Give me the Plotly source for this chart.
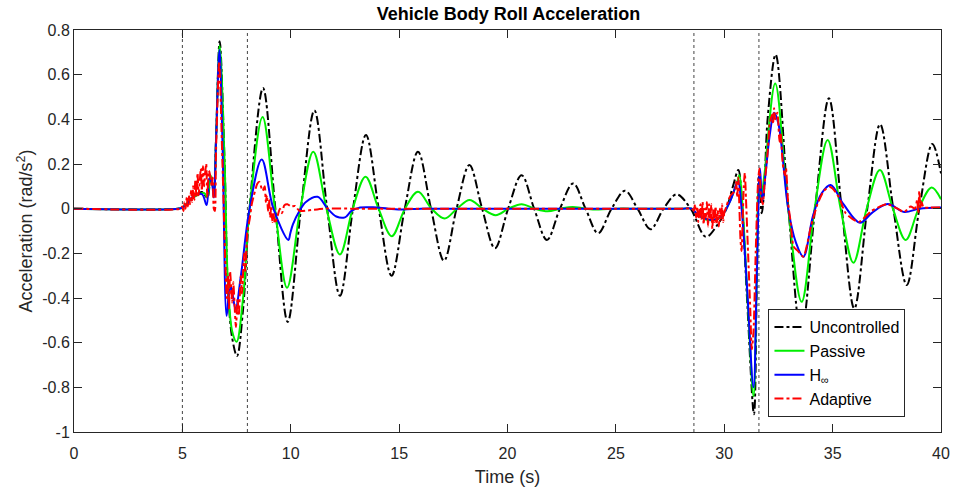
import plotly.graph_objects as go

# ---------------- data ----------------
unc_t = [0, 4.8, 5.0, 5.3, 5.6, 5.9, 6.15, 6.3, 6.45, 6.55, 6.72, 6.95, 7.1, 7.3, 7.52, 7.8, 8.1, 8.72,
         9.29, 9.86, 10.47, 11.09, 11.68, 12.27, 12.87, 13.47, 14.06, 14.65, 15.26, 15.87, 16.47, 17.07,
         17.65, 18.24, 18.83, 19.42, 20.03, 20.65, 21.23, 21.82, 22.42, 23.03, 23.6, 24.18, 24.8, 25.42,
         26.0, 26.6, 27.2, 27.8, 28.45, 29.15, 29.7, 30.1, 30.4, 30.65, 30.8, 31.05, 31.37, 31.5, 31.6,
         31.73, 31.85, 32.0, 32.37, 32.96, 33.55, 34.19, 34.83, 35.42, 36.0, 36.6, 37.19, 37.8, 38.42,
         39.0, 39.6, 40.0]
unc_v = [0, 0, 0.005, 0.03, 0.06, 0.075, 0.05, 0.14, 0.08, 0.3, 0.75, 0.2, -0.35, -0.58, -0.66, -0.45, 0.0, 0.54,
         0.0, -0.507, 0.0, 0.44, 0.0, -0.39, 0.0, 0.33, 0.0, -0.30, 0.0, 0.255, 0.0, -0.233,
         0.0, 0.195, 0.0, -0.177, 0.0, 0.15, 0.0, -0.14, 0.0, 0.113, 0.0, -0.11, 0.0, 0.08,
         0.0, -0.092, 0.0, 0.064, 0.0, -0.126, -0.07, 0.0, 0.1, 0.173, 0.05, -0.4, -0.92, -0.35, 0.15,
         -0.02, 0.1, 0.4, 0.69, 0.0, -0.56, 0.0, 0.494, 0.0, -0.447, 0.0, 0.378, 0.0, -0.342,
         0.0, 0.29, 0.158]

pas_t = [0, 4.8, 5.0, 5.5, 6.0, 6.15, 6.3, 6.45, 6.55, 6.72, 6.95, 7.1, 7.3, 7.5, 7.8, 8.1, 8.7, 9.27, 9.83,
         10.44, 11.04, 11.65, 12.27, 12.86, 13.45, 14.05, 14.66, 15.27, 15.87, 16.5, 17.1, 17.67, 18.25,
         18.85, 19.45, 20.05, 20.65, 21.25, 21.85, 22.45, 23.0, 23.6, 24.2, 25.0, 26.0, 27.0, 28.0, 28.5,
         28.7, 29.2, 29.8,
         30.2, 30.6, 30.7, 30.85, 31.1, 31.35, 31.5, 31.6, 31.7, 31.85, 32.35, 32.95, 33.57, 34.17, 34.77,
         35.37, 35.96, 36.57, 37.18, 37.78, 38.37, 38.97, 39.57, 40.0]
pas_v = [0, 0, 0.005, 0.05, 0.07, 0.05, 0.15, 0.08, 0.3, 0.73, 0.2, -0.33, -0.55, -0.596, -0.4, 0.0, 0.41, 0.0, -0.354,
         0.0, 0.255, 0.0, -0.205, 0.0, 0.143, 0.0, -0.123, 0.0, 0.076, 0.0, -0.044, 0.0, 0.039,
         0.0, -0.029, 0.0, 0.02, 0.0, -0.012, 0.0, 0.008, 0.0, -0.004, 0.0, 0.0, 0.0, 0.0, 0.0,
         -0.02, -0.05, -0.04,
         0.02, 0.12, 0.15, 0.0, -0.45, -0.84, -0.3, 0.1, 0.05, 0.15, 0.56, 0.0, -0.417, 0.0, 0.307,
         0.0, -0.242, 0.0, 0.173, 0.0, -0.14, 0.0, 0.095, 0.042]

hinf_t = [0, 4.8, 5.0, 5.2, 5.5, 5.9, 6.12, 6.24, 6.35, 6.45, 6.55, 6.71, 6.85, 7.04, 7.15, 7.25, 7.45, 7.7, 8.1,
          8.66, 9.2, 9.89, 9.98, 10.1, 10.4, 10.7, 11.24, 11.7, 12.1, 12.5, 12.8, 13.2, 13.8, 14.5, 15.2,
          16.0, 17.0, 18.5, 20.0, 21.5, 23.0, 24.5, 26.0, 27.0, 28.0, 28.5, 28.7, 29.0, 29.5, 29.9, 30.3,
          30.63, 30.8, 31.05, 31.35, 31.5, 31.65, 31.75, 31.9,
          32.1, 32.3, 32.5, 32.95, 33.3, 33.65, 34.1, 34.5, 34.91, 35.5, 36.26, 36.8, 37.54, 38.3, 39.0, 40.0]
hinf_v = [0, 0, 0.005, 0.02, 0.055, 0.065, 0.016, 0.135, 0.12, 0.05, 0.3, 0.71, 0.3, -0.48, -0.38, -0.35, -0.45, -0.3, 0.0,
          0.22, 0.0, -0.14, -0.11, -0.07, -0.01, 0.03, 0.053, 0.0, -0.035, -0.039, -0.01, 0.005, 0.006, 0.0, -0.004,
          0.0, 0.0, 0.0, 0.0, 0.0, 0.0, 0.0, 0.0, 0.0, 0.0, 0.0, -0.02, -0.04, -0.05, -0.03, 0.04,
          0.12, 0.0, -0.35, -0.8, -0.3, 0.18, 0.03, 0.15,
          0.33, 0.43, 0.38, 0.0, -0.15, -0.215, -0.03, 0.07, 0.106, 0.02, -0.063, -0.02, 0.021, -0.015, 0.0, 0.005]

ada_t = [0, 4.9, 5.0, 5.05, 5.1, 5.15, 5.2, 5.25, 5.3, 5.35, 5.4, 5.45, 5.5, 5.55, 5.6, 5.65, 5.7, 5.75, 5.8,
         5.85, 5.9, 5.95, 6.0, 6.05, 6.1, 6.15, 6.22, 6.28, 6.35, 6.4, 6.45, 6.5, 6.55, 6.7, 6.85, 7.0, 7.05,
         7.1, 7.15, 7.2, 7.25, 7.3, 7.35, 7.47, 7.55, 7.6, 7.7, 7.75, 7.85, 7.9, 8.0, 8.1, 8.2, 8.3, 8.45,
         8.55, 8.7, 8.8, 8.85, 8.9, 8.95, 9.0, 9.05, 9.1, 9.15, 9.2, 9.27, 9.4, 9.5, 9.6, 9.7, 9.85, 10.0,
         10.2, 10.4, 10.8, 11.5, 13.0, 15.0, 17.0, 19.0, 21.0, 23.0, 25.0, 27.0, 28.0,
         28.5, 28.6, 28.65, 28.7, 28.75, 28.8, 28.85, 28.9, 28.95, 29.0, 29.05,
         29.1, 29.15, 29.2, 29.25, 29.3, 29.35, 29.4, 29.45, 29.5, 29.55, 29.6, 29.65, 29.7, 29.75, 29.8,
         29.85, 29.9, 29.95, 30.0, 30.1, 30.2, 30.3, 30.4, 30.5, 30.55, 30.6, 30.65, 30.7, 30.75, 30.8,
         30.85, 30.9, 30.95, 31.0, 31.1, 31.2, 31.27, 31.35, 31.45, 31.55, 31.62, 31.7, 31.78, 31.85, 32.0,
         32.1, 32.2, 32.25, 32.3, 32.35, 32.45, 32.55, 32.6, 32.7, 32.8, 32.85, 32.95, 33.05, 33.2, 33.4,
         33.65, 34.0, 34.3, 34.6, 34.85, 35.0, 35.3, 35.6, 36.2, 36.8, 37.5, 38.0, 38.3, 38.6, 38.8, 38.9,
         38.95, 39.0, 39.05, 39.1, 39.2, 39.5, 40.0]
ada_v = [0, 0, 0.01, -0.01, 0.03, 0.0, 0.05, 0.01, 0.06, 0.02, 0.08, 0.03, 0.1, 0.04, 0.13, 0.05, 0.16, 0.06, 0.12,
         0.18, 0.08, 0.19, 0.1, 0.16, 0.2, 0.05, 0.17, 0.15, 0.1, 0.14, 0.0, -0.01, 0.25, 0.66, 0.2, -0.3, -0.4,
         -0.3, -0.45, -0.28, -0.35, -0.42, -0.33, -0.53, -0.4, -0.48, -0.3, -0.38, -0.2, -0.28, -0.1, -0.05, 0.02, 0.06, 0.11,
         0.12, 0.08, 0.1, 0.03, 0.06, -0.01, 0.04, -0.04, 0.01, -0.06, -0.02, -0.066, -0.03, 0.0, -0.02, 0.015, 0.02, 0.01,
         0.012, -0.01, -0.008, 0.0, 0.0, 0.0, 0.0, 0.0, 0.0, 0.0, 0.0, 0.0, 0.0,
         0.0, -0.01, 0.02, -0.04, 0.01, -0.06, -0.02, 0.02, -0.05, 0.03, -0.07,
         0.0, -0.04, 0.03, -0.08, 0.02, -0.05, 0.02, -0.09, 0.0, -0.06, 0.01, -0.07, -0.01, -0.08, 0.0,
         -0.05, 0.02, -0.06, -0.02, 0.01, 0.04, 0.06, 0.07, 0.08, 0.12, 0.05, 0.14, 0.0, -0.14, -0.19,
         -0.05, 0.1, 0.16, 0.05, -0.2, -0.45, -0.63, -0.55, -0.2, 0.1, 0.18, 0.05, 0.02, 0.1, 0.25,
         0.38, 0.42, 0.38, 0.45, 0.4, 0.43, 0.3, 0.34, 0.2, 0.15, 0.18, 0.02, -0.05, -0.17, -0.19,
         -0.215, -0.08, 0.02, 0.08, 0.098, 0.09, 0.05, -0.02, -0.06, -0.01, 0.02, 0.0, -0.015, 0.01, 0.0, 0.04,
         -0.02, 0.08, 0.0, 0.03, 0.005, 0.005, 0.005]

event_times = [5, 8, 28.6, 31.6]

x_tick_vals = [0, 5, 10, 15, 20, 25, 30, 35, 40]
x_tick_labels = ["0", "5", "10", "15", "20", "25", "30", "35", "40"]
y_tick_vals = [-1, -0.8, -0.6, -0.4, -0.2, 0, 0.2, 0.4, 0.6, 0.8]
y_tick_labels = ["-1", "-0.8", "-0.6", "-0.4", "-0.2", "0", "0.2", "0.4", "0.6", "0.8"]

series_names = ["Uncontrolled", "Passive", "H<sub>∞</sub>", "Adaptive"]

# ---------------- figure ----------------
FONT = "Liberation Sans, Arial, sans-serif"
fig = go.Figure()

fig.add_trace(go.Scatter(x=unc_t, y=unc_v, mode="lines", name=series_names[0],
                         line=dict(color="black", width=2, dash="dashdot", shape="spline", smoothing=1)))
fig.add_trace(go.Scatter(x=pas_t, y=pas_v, mode="lines", name=series_names[1],
                         line=dict(color="#00ee00", width=2, shape="spline", smoothing=1)))
fig.add_trace(go.Scatter(x=hinf_t, y=hinf_v, mode="lines", name=series_names[2],
                         line=dict(color="#0000ff", width=2, shape="spline", smoothing=1)))
fig.add_trace(go.Scatter(x=ada_t, y=ada_v, mode="lines", name=series_names[3],
                         line=dict(color="#ff0000", width=2, dash="dashdot", shape="spline", smoothing=0.6)))

for t in event_times:
    fig.add_shape(type="line", xref="x", yref="paper", x0=t, x1=t, y0=0, y1=1,
                  line=dict(color="#444444", width=1, dash="dot"), layer="below")

axis_common = dict(showline=True, linecolor="#262626", linewidth=1, mirror="ticks",
                   ticks="inside", ticklen=8, tickcolor="#262626", showgrid=False, zeroline=False,
                   automargin=False,
                   tickfont=dict(family=FONT, size=16, color="#262626"))

fig.update_layout(
    width=953, height=488,
    margin=dict(l=74, r=12, t=30, b=56),
    paper_bgcolor="white", plot_bgcolor="white",
    title=dict(text="<b>Vehicle Body Roll Acceleration</b>", x=0.5336, xanchor="center",
               y=0.984, yanchor="top", font=dict(family=FONT, size=18, color="black")),
    xaxis=dict(range=[0, 40], tickvals=x_tick_vals, ticktext=x_tick_labels, ticklabelstandoff=7,
               title=dict(text="Time (s)", font=dict(family=FONT, size=18, color="#262626"), standoff=9),
               **axis_common),
    yaxis=dict(range=[-1, 0.8], tickvals=y_tick_vals, ticktext=y_tick_labels,
               title=dict(text="Acceleration (rad/s<sup>2</sup>)", font=dict(family=FONT, size=18, color="#262626"),
                          standoff=4),
               **axis_common),
    legend=dict(x=0.801, y=0.037, xanchor="left", yanchor="bottom", bgcolor="white",
                bordercolor="#262626", borderwidth=1, font=dict(family=FONT, size=16, color="black"),
                tracegroupgap=0),
    showlegend=True,
)

fig.write_html("out.html")
